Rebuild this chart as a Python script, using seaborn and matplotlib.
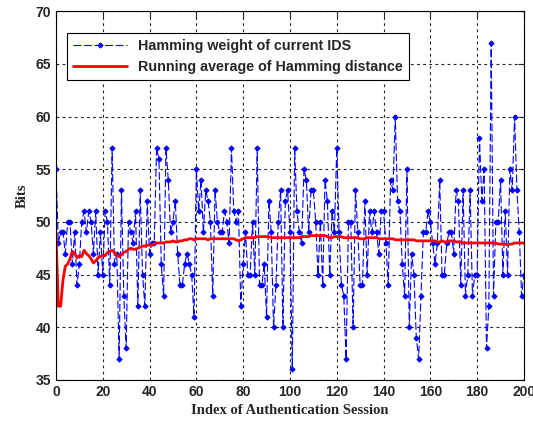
import numpy as np
import pandas as pd
import matplotlib
matplotlib.use("Agg")
import matplotlib.pyplot as plt
import seaborn as sns

# Hamming weight of current IDS, one value per authentication session (0..200)
hamming_weight = [
    55, 48, 49, 49, 47, 50, 50, 46, 49, 44,
    46, 50, 51, 49, 51, 50, 47, 51, 45, 49,
    45, 51, 50, 44, 57, 46, 47, 37, 53, 43,
    38, 50, 49, 48, 51, 42, 53, 45, 42, 52,
    47, 48, 48, 57, 56, 46, 43, 57, 54, 49,
    50, 52, 47, 44, 44, 46, 47, 46, 45, 41,
    55, 51, 54, 49, 53, 52, 50, 43, 53, 50,
    49, 49, 51, 50, 48, 57, 51, 50, 51, 42,
    46, 49, 45, 45, 50, 45, 57, 44, 44, 46,
    41, 52, 49, 40, 44, 50, 53, 40, 52, 53,
    49, 36, 57, 51, 49, 48, 55, 54, 49, 53,
    53, 50, 45, 50, 44, 54, 52, 45, 51, 49,
    57, 49, 44, 43, 37, 50, 50, 40, 53, 49,
    44, 44, 52, 45, 51, 49, 51, 49, 47, 51,
    51, 48, 44, 54, 53, 60, 52, 51, 46, 43,
    55, 40, 47, 45, 39, 37, 43, 49, 49, 51,
    50, 48, 46, 48, 54, 45, 45, 48, 49, 49,
    47, 53, 52, 44, 53, 43, 45, 53, 43, 45,
    45, 58, 52, 55, 38, 42, 67, 43, 50, 50,
    54, 45, 51, 45, 55, 53, 60, 53, 49, 43,
    45,
]

# running average of Hamming distance
running_avg = [
    49.0, 42.0, 42.0, 44.5, 45.8, 46.0, 46.5, 47.2, 47.0, 46.6,
    46.8, 46.7, 47.3, 47.0, 46.8, 46.5, 46.1, 46.3, 46.6, 46.7,
    46.8, 46.8, 47.1, 47.2, 47.3, 47.1, 46.8, 46.7, 46.9, 47.1,
    47.2, 47.4, 47.5, 47.4, 47.4, 47.5, 47.6, 47.7, 47.7, 47.8,
    47.8, 47.8, 47.9, 48.0, 48.0, 48.0, 48.0, 48.1, 48.1, 48.1,
    48.2, 48.1, 48.1, 48.2, 48.2, 48.3, 48.3, 48.4, 48.4, 48.3,
    48.4, 48.4, 48.4, 48.4, 48.4, 48.3, 48.4, 48.4, 48.4, 48.4,
    48.4, 48.4, 48.4, 48.4, 48.4, 48.4, 48.4, 48.3, 48.2, 48.3,
    48.4, 48.5, 48.5, 48.5, 48.5, 48.5, 48.6, 48.6, 48.6, 48.6,
    48.6, 48.6, 48.5, 48.5, 48.5, 48.5, 48.5, 48.5, 48.5, 48.5,
    48.5, 48.5, 48.5, 48.5, 48.5, 48.6, 48.6, 48.6, 48.6, 48.7,
    48.7, 48.7, 48.7, 48.7, 48.7, 48.7, 48.6, 48.5, 48.5, 48.6,
    48.6, 48.6, 48.6, 48.5, 48.5, 48.5, 48.5, 48.5, 48.5, 48.5,
    48.4, 48.4, 48.4, 48.5, 48.5, 48.5, 48.5, 48.5, 48.4, 48.4,
    48.4, 48.4, 48.4, 48.4, 48.4, 48.3, 48.3, 48.3, 48.3, 48.3,
    48.3, 48.3, 48.3, 48.3, 48.2, 48.2, 48.2, 48.2, 48.2, 48.2,
    48.2, 48.2, 48.2, 48.1, 48.1, 48.2, 48.1, 48.1, 48.2, 48.2,
    48.2, 48.1, 48.1, 48.1, 48.0, 48.0, 48.0, 48.0, 48.0, 48.0,
    48.0, 48.0, 48.0, 48.0, 48.0, 48.0, 48.0, 48.0, 48.0, 47.9,
    47.9, 47.9, 47.9, 47.8, 47.9, 47.9, 48.0, 48.0, 48.0, 48.0,
    48.0,
]

x_ticks = [0, 20, 40, 60, 80, 100, 120, 140, 160, 180, 200]
y_ticks = [35, 40, 45, 50, 55, 60, 65, 70]

df = pd.DataFrame({
    "session": np.arange(len(hamming_weight)),
    "weight": hamming_weight,
    "avg": running_avg,
})

sns.set_style("white")
plt.rcParams['font.family'] = ['Liberation Sans', 'DejaVu Sans']

fig = plt.figure(figsize=(5.33, 4.23), dpi=100)
ax = fig.add_axes([0.105, 0.1017, 0.878, 0.872])

sns.lineplot(data=df, x="session", y="weight", ax=ax, color="#0000FF",
             linestyle=(0, (7, 2.5)), linewidth=0.8, marker="D",
             markersize=2.6, markeredgecolor="#0000FF",
             label="Hamming weight of current IDS")
sns.lineplot(data=df, x="session", y="avg", ax=ax, color="#FF0000",
             linewidth=2, label="Running average of Hamming distance")

ax.set_xlim(0, 200)
ax.set_ylim(35, 70)
ax.set_xticks(x_ticks)
ax.set_yticks(y_ticks)
ax.tick_params(direction="in", length=4, top=True, right=True, labelsize=10)
for lab in ax.get_xticklabels() + ax.get_yticklabels():
    lab.set_fontweight("bold")

ax.grid(True, color="#222222", linestyle=(0, (2.5, 3)), linewidth=0.8)
for s in ax.spines.values():
    s.set_color("black")
    s.set_linewidth(0.8)

ax.set_xlabel("Index of Authentication Session", family=["Liberation Serif"],
              fontweight="bold", fontsize=10.5, labelpad=4)
ax.set_ylabel("Bits", family=["Liberation Serif"], fontweight="bold",
              fontsize=10.5, labelpad=5)

leg = ax.legend(loc="upper left", bbox_to_anchor=(0.0235, 0.94),
                borderaxespad=0, fancybox=False, framealpha=1,
                edgecolor="black", handlelength=3.8,
                prop={"weight": "bold", "size": 10.3})
leg.get_frame().set_linewidth(0.8)

fig.savefig("out.png", dpi=100, facecolor="white")
